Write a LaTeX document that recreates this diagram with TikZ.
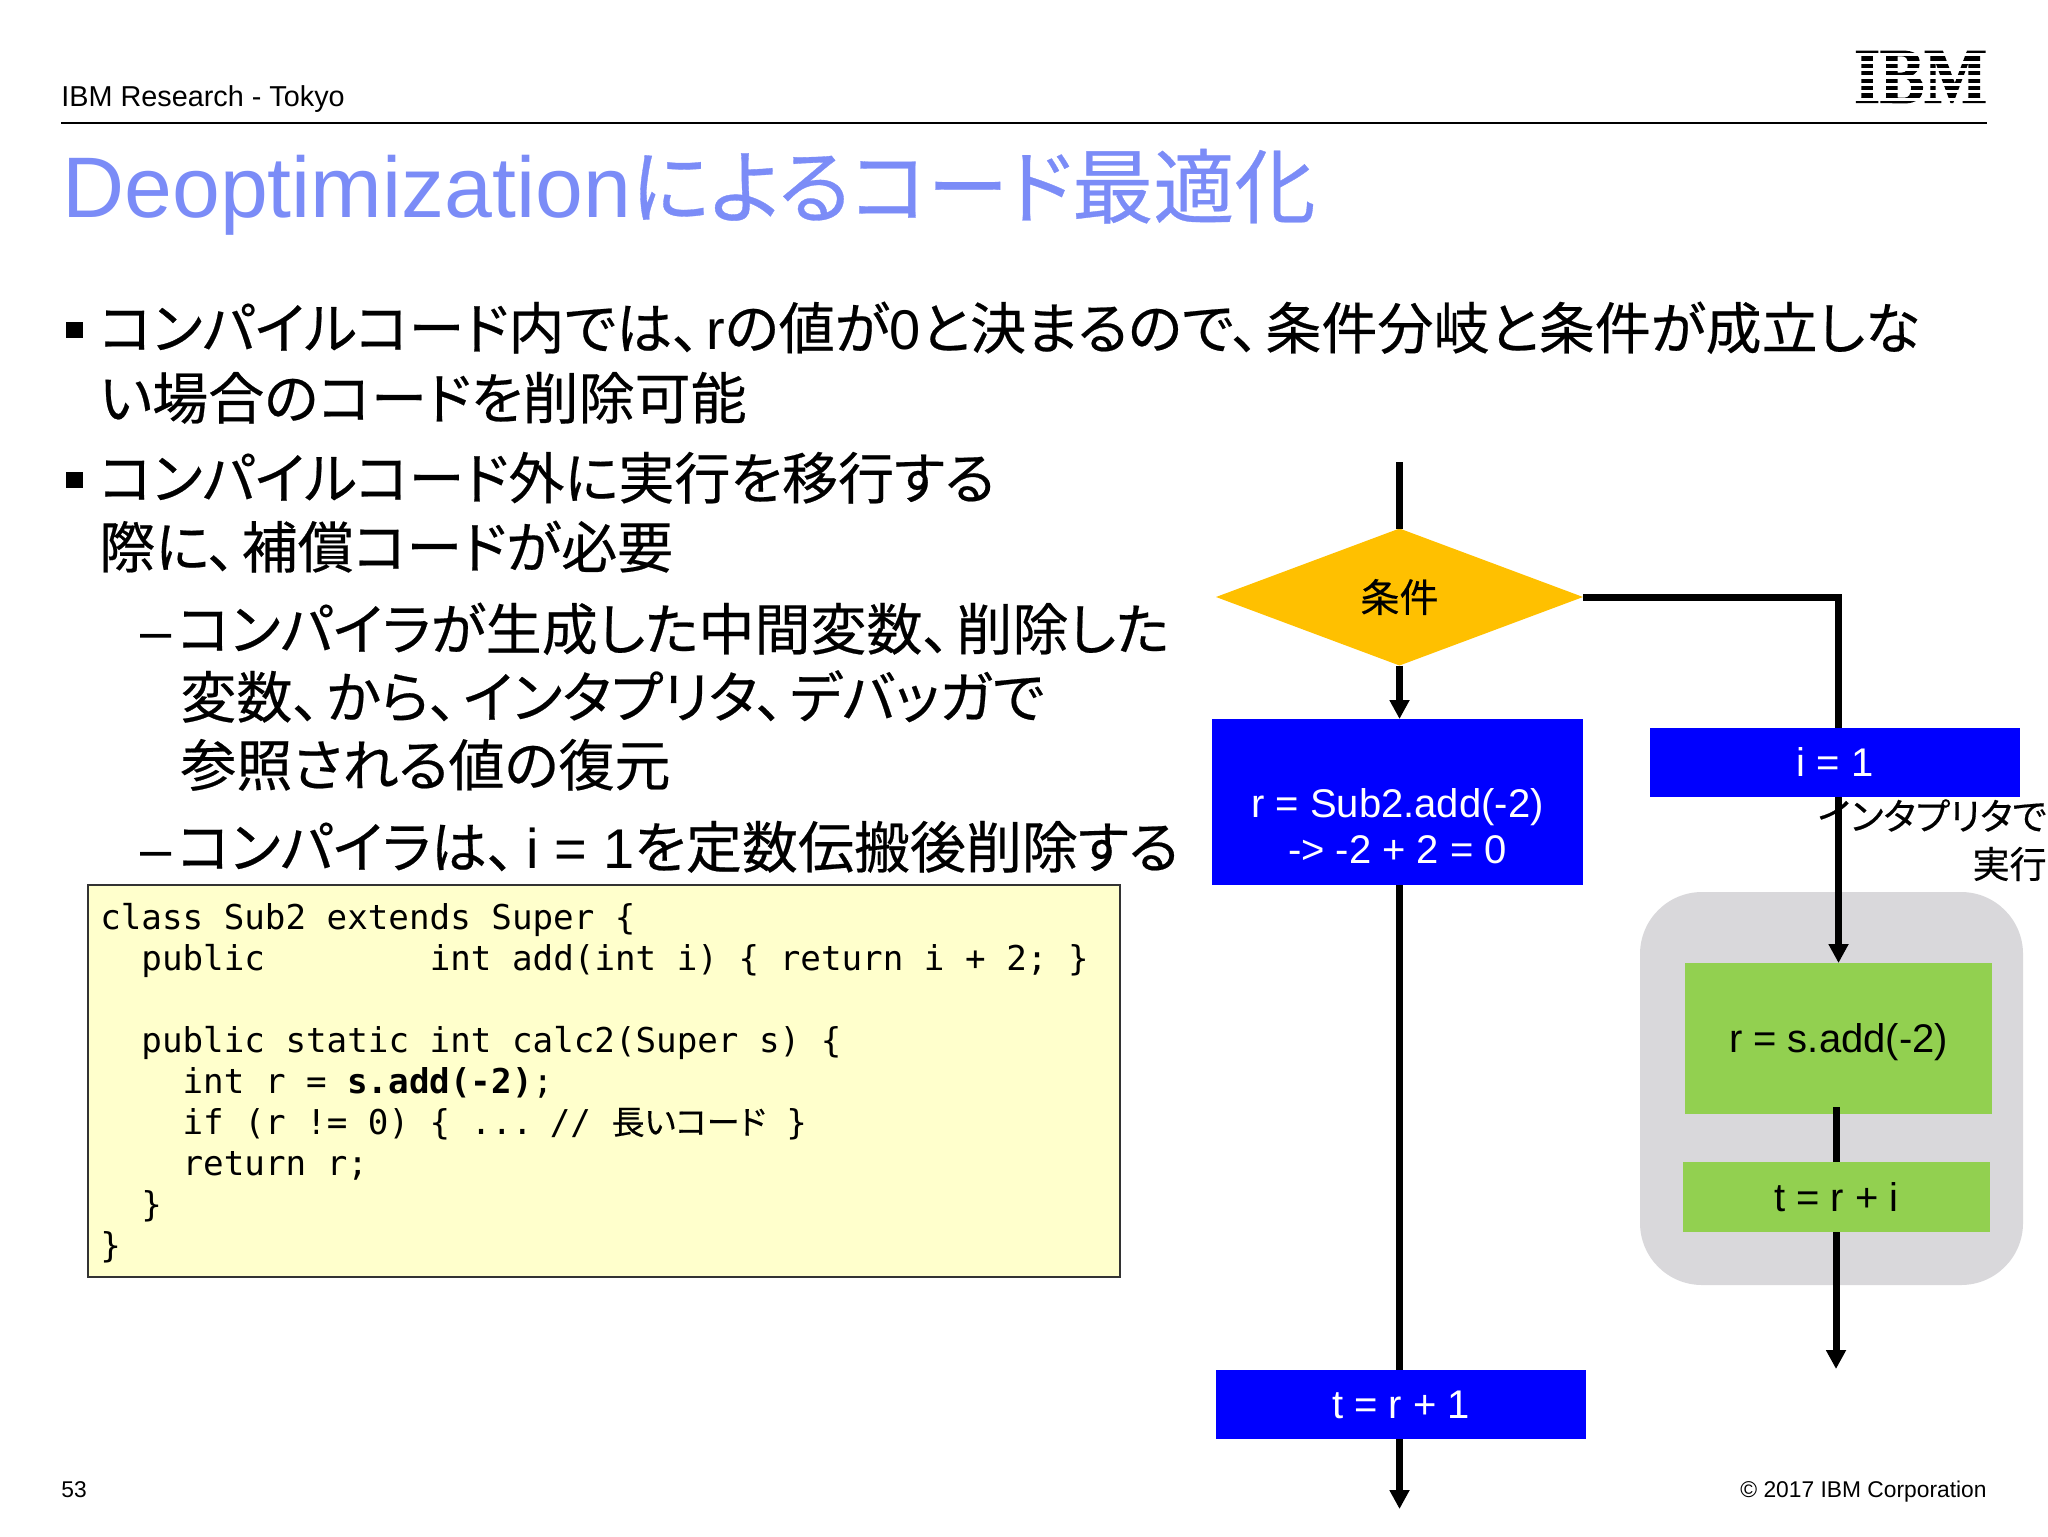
\documentclass[tikz,border=0pt]{standalone}
\usepackage{fontspec}
\setmainfont{Liberation Sans}
\newfontfamily\cjk[RawFeature=+palt,FakeBold=0.4]{Noto Sans CJK JP}
\newfontfamily\codefont{DejaVu Sans Mono}
\newfontfamily\logofont[FakeBold=2]{Liberation Serif}
\usetikzlibrary{arrows.meta,shapes.geometric}
\definecolor{titleblue}{HTML}{7B8CF7}
\definecolor{flowblue}{HTML}{0000FF}
\definecolor{condyellow}{HTML}{FFC000}
\definecolor{flowgreen}{HTML}{92D050}
\definecolor{panelgrey}{HTML}{D9D8DB}
\definecolor{codeyellow}{HTML}{FFFFCC}
\newcommand{\lat}[1]{{\rmfamily #1}}
\newcommand{\ten}{、\hspace{3pt}}
\newcommand{\codejp}[1]{{\cjk\fontsize{16.5}{20.5}\selectfont #1}}
\tikzset{
  bodyline/.style={anchor=base west,inner sep=0pt,font=\cjk\fontsize{28}{30}\selectfont},
  dashmark/.style={anchor=base west,inner sep=0pt,font=\fontsize{28}{30}\selectfont},
  bulletmark/.style={fill=black,inner sep=0pt,minimum width=8.5pt,minimum height=8pt},
  flowbox/.style={inner sep=0pt,outer sep=0pt,font=\fontsize{20}{23}\selectfont},
  flowlabel/.style={text height=14.3pt,text depth=0pt},
  blueblock/.style={flowbox,fill=flowblue,text=white},
  greenblock/.style={flowbox,fill=flowgreen,text=black},
  flowline/.style={line width=3.5pt,black},
  flowarrow/.style={flowline,-{Triangle[length=9.5pt,width=9.5pt]}},
  smalltext/.style={inner sep=0pt,font=\fontsize{11.4}{13}\selectfont},
  sidenote/.style={anchor=base east,inner sep=0pt,font=\cjk\fontsize{18.5}{20}\selectfont}
}
\begin{document}
\begin{tikzpicture}[x=0.5pt,y=-0.5pt]
  \useasboundingbox (0,0) rectangle (2048,1536);
  % Header
  \node (header) [anchor=base west,inner sep=0pt,font=\fontsize{14.4}{17}\selectfont] at (61,106) {IBM Research - Tokyo};
  \node (ibmlogo) [inner sep=0pt,xscale=0.85,font=\logofont\bfseries\fontsize{39}{39}\selectfont] at (1920.5,77) {IBM};
  \foreach \k in {0,...,6}
    \draw[white,line width=1.6pt] (1848,54.7+7.43*\k) -- (1992,54.7+7.43*\k);
  \coordinate (ruleleft) at (61,123);
  \coordinate (ruleright) at (1987,123);
  \draw[line width=1pt,black] (ruleleft) -- (ruleright);
  \node (title) [anchor=base west,inner sep=0pt,text=titleblue,font=\fontsize{43}{50}\selectfont] at (62,217)
    {Deoptimization{\cjk\fontsize{40.6}{50}\selectfont によるコード最適化}};
  % Body text
  \node (bulletone) [bulletmark] at (74.5,330) {};
  \node (lineone) [bodyline] at (99,349) {コンパイルコード内では\ten\lat{r}の値が\lat{0}と決まるので\ten 条件分岐と条件が成立しな};
  \node (linetwo) [bodyline] at (99,419) {い場合のコードを削除可能};
  \node (bullettwo) [bulletmark] at (74.5,480) {};
  \node (linethree) [bodyline] at (99,499) {コンパイルコード外に実行を移行する};
  \node (linefour) [bodyline] at (99,568) {際に\ten 補償コードが必要};
  \node (dashone) [dashmark] at (140,650) {–};
  \node (linefive) [bodyline] at (177,650) {コンパイラが生成した中間変数\ten 削除した};
  \node (linesix) [bodyline] at (180,718) {変数\ten から\ten インタプリタ\ten デバッガで};
  \node (lineseven) [bodyline] at (180,786) {参照される値の復元};
  \node (dashtwo) [dashmark] at (140,868) {–};
  \node (lineeight) [bodyline] at (177,868) {コンパイラは\ten\hspace{3pt}\lat{i = 1}を定数伝搬後削除する};
  % Code
  \node (codebox) [draw=black!80,line width=0.8pt,fill=codeyellow,inner xsep=6.25pt,inner ysep=0pt,
    minimum height=196pt,text width=503.5pt,align=left,
    font=\codefont\fontsize{17.1}{20.5}\selectfont] at (603.75,1081) {%
    \spaceskip=10.3pt\relax
    \rule{0pt}{15pt}class Sub2 extends Super \{\\
    ~~public~~~~~~~~int add(int i) \{ return i + 2; \}\\
    \mbox{}\\
    ~~public static int calc2(Super s) \{\\
    ~~~~int r = \textbf{s.add(-2)};\\
    ~~~~if (r != 0) \{ ... // \codejp{長いコード} \}\\
    ~~~~return r;\\
    ~~\}\\
    \}};
  % Flow
  \node (panel) [fill=panelgrey,rounded corners=31pt,inner sep=0pt,minimum width=191.5pt,minimum height=196.5pt] at (1831.5,1088.5) {};
  \node (rassign) [greenblock,flowlabel,minimum width=153.5pt,minimum height=75.5pt] at (1838.5,1038.5) {r = s.add(-2)};
  \node (cond) [diamond,aspect=2.68,fill=condyellow,inner sep=0pt,outer sep=0pt,minimum width=183.5pt,minimum height=68.5pt,
    font=\cjk\fontsize{19.5}{23}\selectfont] at (1399.5,597) {条件};
  \coordinate (entry) at (cond.north);
  \coordinate (entrytop) at (1399.5,462);
  \draw[flowline] (entrytop) -- (entry);
  \draw[flowarrow] (cond.east) -| (rassign.north);
  \node (rcalc) [blueblock,align=center,minimum width=185.5pt,minimum height=83pt] at (1397.5,802)
    {\rule{0pt}{16pt}\\r = Sub2.add(-2)\\-> -2 + 2 = 0};
  \draw[flowarrow] (cond.south) -- (cond.south |- rcalc.north);
  \node (iset) [blueblock,flowlabel,minimum width=185.25pt,minimum height=34.5pt] at (1835,762.5) {i = 1};
  \node (tleft) [blueblock,flowlabel,minimum width=185pt,minimum height=34.5pt] at (1401,1404.5) {t = r + 1};
  \coordinate (leftend) at (1399.5,1509);
  \draw[flowline] (cond.south |- rcalc.south) -- (cond.south |- tleft.north);
  \draw[flowarrow] (cond.south |- tleft.south) -- (leftend);
  \coordinate (rightstart) at (1836,1107);
  \coordinate (rightend) at (1836,1369);
  \draw[flowarrow] (rightstart) -- (rightend);
  \node (tright) [greenblock,flowlabel,minimum width=153.5pt,minimum height=35pt] at (1836.5,1197) {t = r + i};
  \node (noteone) [sidenote] at (2047,830) {インタプリタで};
  \node (notetwo) [sidenote] at (2047,878) {実行};
  % Footer
  \node (pagenum) [smalltext,anchor=base west] at (61,1497) {53};
  \node (copyright) [smalltext,anchor=base east] at (1987,1497) {© 2017 IBM Corporation};
\end{tikzpicture}
\end{document}
